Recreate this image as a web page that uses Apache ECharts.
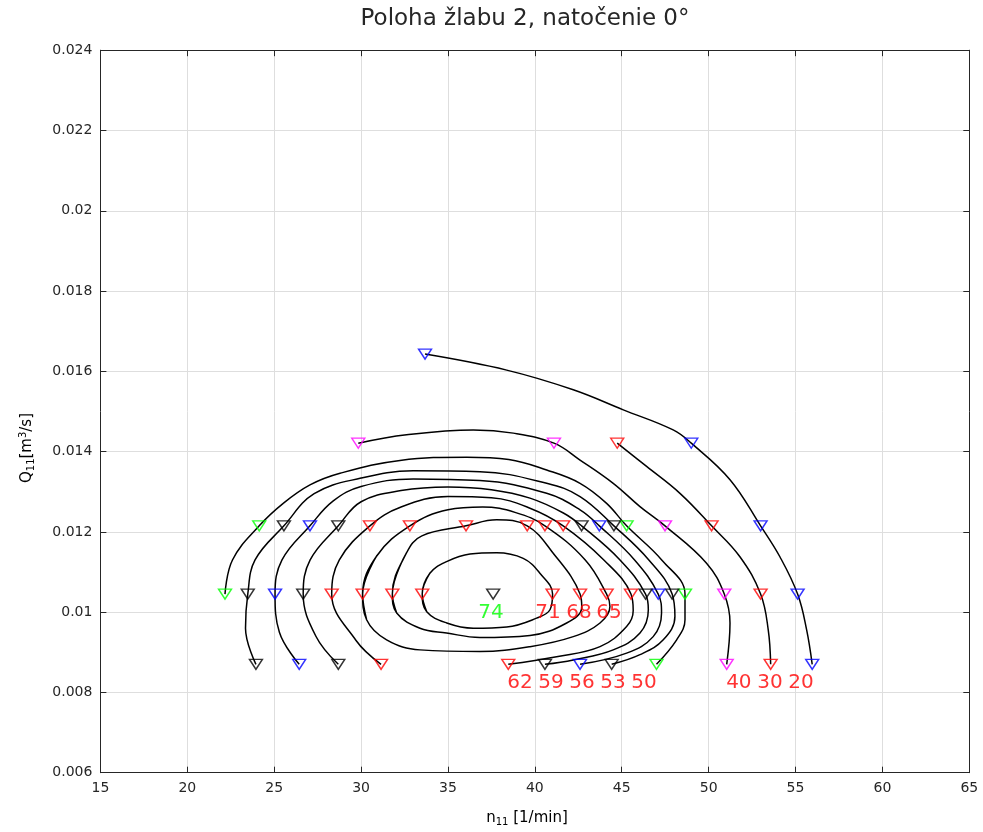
<!DOCTYPE html>
<html>
<head>
<meta charset="utf-8">
<script src="https://cdn.jsdelivr.net/npm/echarts@6/dist/echarts.min.js"></script>
<style>html,body{margin:0;padding:0;background:#fff}#c{width:983px;height:832px}</style>
</head>
<body>
<div id="c"></div>
<script>
// ---- data: each contour = [n11, Q11, measured(1) / curve shape point(0)]
const c20 = [[33.68,0.01643,1],[38.38,0.01603,0],[42.21,0.01554,0],[45.09,0.01504,0],[47.96,0.01454,0],[49.0,0.01421,1],[51.23,0.0133,0],[52.99,0.01215,1],[54.1,0.01138,0],[55.12,0.01045,1],[55.64,0.00956,0],[55.96,0.0087,1]];
const c30 = [[44.74,0.01421,1],[46.43,0.01363,0],[48.35,0.01296,0],[50.17,0.01215,1],[51.8,0.01138,0],[52.99,0.01045,1],[53.43,0.00956,0],[53.57,0.0087,1]];
const c40 = [[29.84,0.01421,1],[32.62,0.01442,0],[36.46,0.01454,0],[38.76,0.01446,0],[41.1,0.01421,1],[42.6,0.01379,0],[44.51,0.01321,0],[46.05,0.01263,0],[47.49,0.01215,1],[49.88,0.01122,0],[50.9,0.01045,1],[51.23,0.00973,0],[51.04,0.0087,1]];
const c50 = [[22.17,0.01045,1],[22.6,0.0113,0],[24.14,0.01215,1],[25.52,0.01271,0],[27.06,0.01317,0],[28.79,0.01346,0],[32.24,0.01378,0],[36.08,0.01386,0],[38.5,0.0138,0],[40.68,0.01354,0],[42.6,0.01321,0],[44.13,0.01271,0],[45.28,0.01215,1],[47.3,0.0113,0],[48.64,0.01045,1],[48.64,0.00981,0],[48.16,0.00931,0],[47.0,0.0087,1]];
const c53 = [[23.95,0.0087,1],[23.35,0.0096,0],[23.48,0.01045,1],[23.9,0.0113,0],[25.56,0.01215,1],[27.3,0.01295,0],[30,0.01334,0],[33,0.01352,0],[36.84,0.0135,0],[40.68,0.01321,0],[42.6,0.01288,0],[44.55,0.01215,1],[46.56,0.0113,0],[47.9,0.01045,1],[48.06,0.00989,0],[47.39,0.00931,0],[46.05,0.00894,0],[44.42,0.0087,1]];
const c56 = [[26.44,0.0087,1],[25.3,0.0095,0],[25.05,0.01045,1],[25.45,0.0113,0],[27.06,0.01215,1],[28.4,0.01277,0],[30,0.01313,0],[33,0.01332,0],[36.84,0.01328,0],[40.68,0.01296,0],[42.6,0.01255,0],[43.71,0.01215,1],[45.74,0.0113,0],[47.1,0.01045,1],[47.29,0.00998,0],[46.81,0.00939,0],[45.28,0.00898,0],[42.6,0.0087,1]];
const c59 = [[28.69,0.0087,1],[27.4,0.0094,0],[26.67,0.01045,1],[27.07,0.0113,0],[28.69,0.01215,1],[30,0.01275,0],[32.3,0.01303,0],[35,0.01312,0],[37.5,0.01305,0],[39.72,0.01284,0],[41.64,0.01247,0],[42.69,0.01215,1],[44.9,0.0113,0],[46.37,0.01045,1],[46.53,0.01006,0],[46.05,0.00948,0],[44.51,0.00906,0],[42.21,0.00881,0],[40.58,0.0087,1]];
const c62 = [[31.15,0.0087,1],[29.7,0.0093,0],[28.31,0.01045,1],[28.75,0.0113,0],[30.51,0.01215,1],[32.3,0.01262,0],[35,0.01288,0],[37.5,0.01285,0],[39.72,0.01259,0],[41.63,0.01215,1],[43.97,0.0113,0],[45.53,0.01045,1],[45.66,0.01004,0],[45.28,0.00964,0],[43.75,0.00914,0],[41.25,0.00889,0],[38.47,0.0087,1]];
const c65 = [[30.09,0.01045,1],[30.9,0.0114,0],[32.81,0.01215,1],[35,0.01255,0],[37,0.01262,0],[38.9,0.01248,0],[40.58,0.01215,1],[42.9,0.0113,0],[44.13,0.01045,1],[44.32,0.01014,0],[43.75,0.00973,0],[42.21,0.00939,0],[39.72,0.00914,0],[36.84,0.00902,0],[33.39,0.00906,0],[31.47,0.00931,0],[30.32,0.00981,0],[30.09,0.01045,0]];
const c68 = [[31.80,0.01045,1],[32.62,0.01148,0],[33.5,0.0119,0],[36.04,0.01215,1],[37.8,0.0123,0],[39.56,0.01215,1],[41.0,0.0115,0],[42.6,0.01045,1],[42.7,0.01012,0],[41.83,0.00973,0],[39.72,0.00942,0],[36.84,0.00937,0],[34.92,0.00948,0],[33.39,0.0096,0],[32.05,0.00998,0],[31.80,0.01045,0]];
const c71 = [[33.52,0.01045,1],[33.96,0.01097,0],[34.92,0.01126,0],[36.27,0.01145,0],[37.8,0.01148,0],[39.33,0.01134,0],[40.29,0.01097,0],[41.02,0.01045,1],[40.87,0.01006,0],[40.1,0.00985,0],[38.38,0.00963,0],[36.46,0.0096,0],[34.93,0.00973,0],[33.78,0.01001,0],[33.52,0.01045,0]];
const c74 = [[37.6,0.01045,1]];

// efficiency labels
const levelText = ['74','71','68','65','62','59','56','53','50','40','30','20'];
const labelX = [37.47,40.75,42.54,44.26,39.14,40.93,42.71,44.49,46.28,51.74,53.53,55.31];
const labelY = [0.00998,0.00998,0.00998,0.00998,0.00825,0.00825,0.00825,0.00825,0.00825,0.00825,0.00825,0.00825];

// axis ticks
const xMin = 15, xMax = 65, xStep = 5;
const yMin = 0.006, yMax = 0.024, yStep = 0.002;

const titleText = 'Poloha žlabu 2, natočenie 0°';

// ---- styles
const RED='#ff0000', BLUE='#0000ff', GREEN='#00ff00', MAG='#ff00ff', BLK='#000000';
const contours = [
  {pts:c20,color:BLUE},{pts:c30,color:RED},{pts:c40,color:MAG},{pts:c50,color:GREEN},
  {pts:c53,color:BLK},{pts:c56,color:BLUE},{pts:c59,color:BLK},{pts:c62,color:RED},
  {pts:c65,color:RED},{pts:c68,color:RED},{pts:c71,color:RED},{pts:c74,color:BLK}
];
const tri = 'path://M0,0 L10,0 L5,8 Z';
const axisCol = '#262626';
const font = 'DejaVu Sans, Liberation Sans, sans-serif';

function lineData(pts) {
  const p = pts.map(q => [q[0], q[1]]);
  const n = p.length;
  const closed = n > 3 && p[0][0] === p[n-1][0] && p[0][1] === p[n-1][1];
  // closed loop: wrap one point on each side so the spline has a tangent at the join
  return closed ? [p[n-2]].concat(p, [p[1]]) : p;
}

const series = [];
contours.forEach(c => {
  if (c.pts.length > 1) {
    series.push({type:'line', xAxisIndex:0, yAxisIndex:0, data:lineData(c.pts),
      smooth:0.4, showSymbol:false, symbol:'none', silent:true, z:2,
      lineStyle:{color:'#000', width:1.5}});
  }
  series.push({type:'scatter', xAxisIndex:0, yAxisIndex:0,
    data:c.pts.filter(p=>p[2]===1).map(p=>[p[0],p[1]]),
    symbol:tri, symbolSize:[13,10], z:3,
    itemStyle:{color:'rgba(0,0,0,0)', borderColor:c.color, borderWidth:1.4}});
});
series.push({type:'scatter', xAxisIndex:0, yAxisIndex:0, symbolSize:0, z:4,
  data:labelX.map((x,i)=>({value:[x,labelY[i]], name:levelText[i],
    label:{show:true, position:'inside', formatter:levelText[i], color: i===0?GREEN:RED,
      fontSize:20, fontFamily:font}}))});

const gridL = 100.4, gridT = 50.2, gridW = 868.9, gridH = 722.5;
const option = {
  animation:false,
  backgroundColor:'#fff',
  grid:{left:gridL, top:gridT, width:gridW, height:gridH, show:false, containLabel:false, outerBoundsMode:'none'},
  graphic:[
    {type:'text', x:525, y:19, silent:true, style:{text:titleText, textAlign:'center', textVerticalAlign:'middle',
      fontSize:23, fontFamily:font, fill:'#262626'}},
    {type:'text', x:527, y:818, silent:true, style:{text:'{n|n}{s|11}{n| [1/min]}', textAlign:'center', textVerticalAlign:'middle',
      rich:{n:{fontSize:15, fontFamily:font, color:axisCol}, s:{fontSize:10, fontFamily:font, color:axisCol, padding:[8,0,0,0]}}}},
    {type:'text', x:27, y:448, rotation:Math.PI/2, silent:true, style:{text:'{n|Q}{s|11}{n|[m}{p|3}{n|/s]}', textAlign:'center', textVerticalAlign:'middle',
      rich:{n:{fontSize:15, fontFamily:font, color:axisCol}, s:{fontSize:10, fontFamily:font, color:axisCol, padding:[8,0,0,0]}, p:{fontSize:10, fontFamily:font, color:axisCol, padding:[0,0,8,0]}}}}
  ],
  xAxis:[{type:'value', min:xMin, max:xMax, interval:xStep, position:'bottom',
    axisLine:{lineStyle:{color:axisCol, width:1}},
    axisTick:{inside:true, length:6, lineStyle:{color:axisCol}},
    axisLabel:{color:axisCol, fontSize:14, margin:9, fontFamily:font},
    splitLine:{show:true, lineStyle:{color:'#dedede', width:1}}
  },{type:'value', min:xMin, max:xMax, interval:xStep, position:'top',
    axisLine:{show:true, onZero:false, lineStyle:{color:axisCol, width:1}},
    axisTick:{inside:true, length:6, lineStyle:{color:axisCol}},
    axisLabel:{show:false}, splitLine:{show:false}}],
  yAxis:[{type:'value', min:yMin, max:yMax, interval:yStep, position:'left',
    axisLine:{show:true, lineStyle:{color:axisCol, width:1}},
    axisTick:{show:true, inside:true, length:6, lineStyle:{color:axisCol}},
    axisLabel:{color:axisCol, fontSize:14, margin:8, fontFamily:font, formatter:v=>String(+v.toFixed(4))},
    splitLine:{show:true, lineStyle:{color:'#dedede', width:1}}
  },{type:'value', min:yMin, max:yMax, interval:yStep, position:'right',
    axisLine:{show:true, onZero:false, lineStyle:{color:axisCol, width:1}},
    axisTick:{show:true, inside:true, length:6, lineStyle:{color:axisCol}},
    axisLabel:{show:false}, splitLine:{show:false}}],
  series:series
};
const chart = echarts.init(document.getElementById('c'), null, {renderer:'canvas'});
chart.setOption(option);
</script>
</body>
</html>
